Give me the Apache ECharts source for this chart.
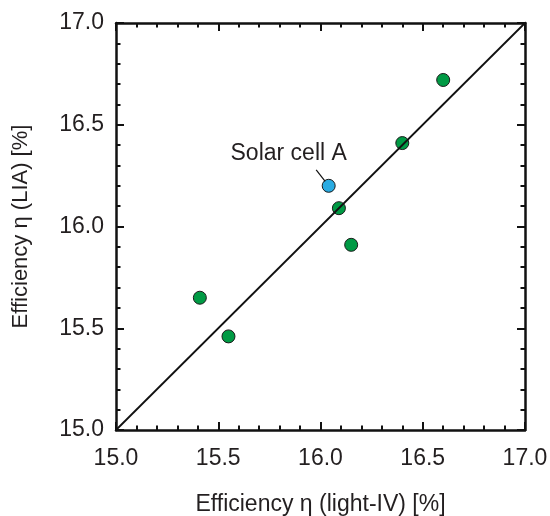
<!DOCTYPE html>
<html>
<head>
<meta charset="utf-8">
<script src="https://cdn.jsdelivr.net/npm/echarts@6/dist/echarts.min.js"></script>
<style>html,body{margin:0;padding:0;background:#fff}#c{width:550px;height:516px}</style>
</head>
<body>
<div id="c"></div>
<script>
// Data
var lightIV = [15.41, 15.55, 16.09, 16.15, 16.40, 16.60];
var lia     = [15.65, 15.46, 16.09, 15.91, 16.41, 16.72];
var cellA_lightIV = [16.04];
var cellA_lia     = [16.20];
var cellA_label = 'Solar cell A';
var parityLine = [15.0, 17.0];
var axisMin = 15.0, axisMax = 17.0, axisStep = 0.5;
var xTitle = 'Efficiency \u03b7 (light-IV) [%]';
var yTitle = 'Efficiency \u03b7 (LIA) [%]';

var FONT = 'Liberation Sans, Arial, sans-serif';
var TXT = '#231f20';

function pairs(a, b) { return a.map(function (v, i) { return [v, b[i]]; }); }

function makeAxis(isX, main) {
  return {
    type: 'value',
    min: axisMin, max: axisMax, interval: axisStep,
    position: isX ? (main ? 'bottom' : 'top') : (main ? 'left' : 'right'),
    name: main ? (isX ? xTitle : yTitle) : '',
    nameLocation: 'middle',
    nameGap: isX ? 63 : 84,
    nameTextStyle: { fontFamily: FONT, fontSize: isX ? 23 : 22, color: TXT },
    axisLine: { show: true, onZero: false, lineStyle: { color: '#111', width: 2.5 } },
    axisTick: { show: true, inside: true, length: 8, lineStyle: { color: '#111', width: 2 } },
    minorTick: { show: true, splitNumber: 5, length: 4.5, lineStyle: { color: '#111', width: 2 } },
    splitLine: { show: false },
    minorSplitLine: { show: false },
    axisLabel: {
      show: main, margin: isX ? 17 : 12, fontFamily: FONT, fontSize: 23, color: TXT,
      formatter: function (v) { return v.toFixed(1); }
    }
  };
}

var chart = echarts.init(document.getElementById('c'), null, { renderer: 'canvas' });
chart.setOption({
  animation: false,
  backgroundColor: '#fff',
  grid: { left: 116, right: 25, top: 23, bottom: 86, containLabel: false, outerBoundsMode: 'none' },
  xAxis: [makeAxis(true, true), makeAxis(true, false)],
  yAxis: [makeAxis(false, true), makeAxis(false, false)],
  series: [
    {
      type: 'line',
      data: [[parityLine[0], parityLine[0]], [parityLine[1], parityLine[1]]],
      symbol: 'none',
      lineStyle: { color: '#111', width: 1.8 },
      silent: true
    },
    {
      type: 'scatter',
      data: pairs(lightIV, lia),
      symbolSize: 13,
      itemStyle: { color: '#009a44', borderColor: '#1a1a1a', borderWidth: 1, opacity: 1 }
    },
    {
      type: 'scatter',
      data: pairs(cellA_lightIV, cellA_lia),
      symbolSize: 13,
      itemStyle: { color: '#29abe2', borderColor: '#1a1a1a', borderWidth: 1, opacity: 1 },
      label: {
        show: true,
        formatter: cellA_label,
        position: [-33, -25],
        align: 'center',
        verticalAlign: 'middle',
        fontFamily: FONT, fontSize: 23, color: TXT
      }
    }
  ]
});

// leader line from the label to the Solar cell A point, positioned via the chart scale
var p = chart.convertToPixel({ xAxisIndex: 0, yAxisIndex: 0 }, [cellA_lightIV[0], cellA_lia[0]]);
chart.setOption({
  graphic: [{
    type: 'line',
    shape: { x1: p[0] - 12.5, y1: p[1] - 16, x2: p[0] - 3.5, y2: p[1] - 4.5 },
    style: { stroke: '#111', lineWidth: 1.2 },
    z: 10
  }]
});
</script>
</body>
</html>
